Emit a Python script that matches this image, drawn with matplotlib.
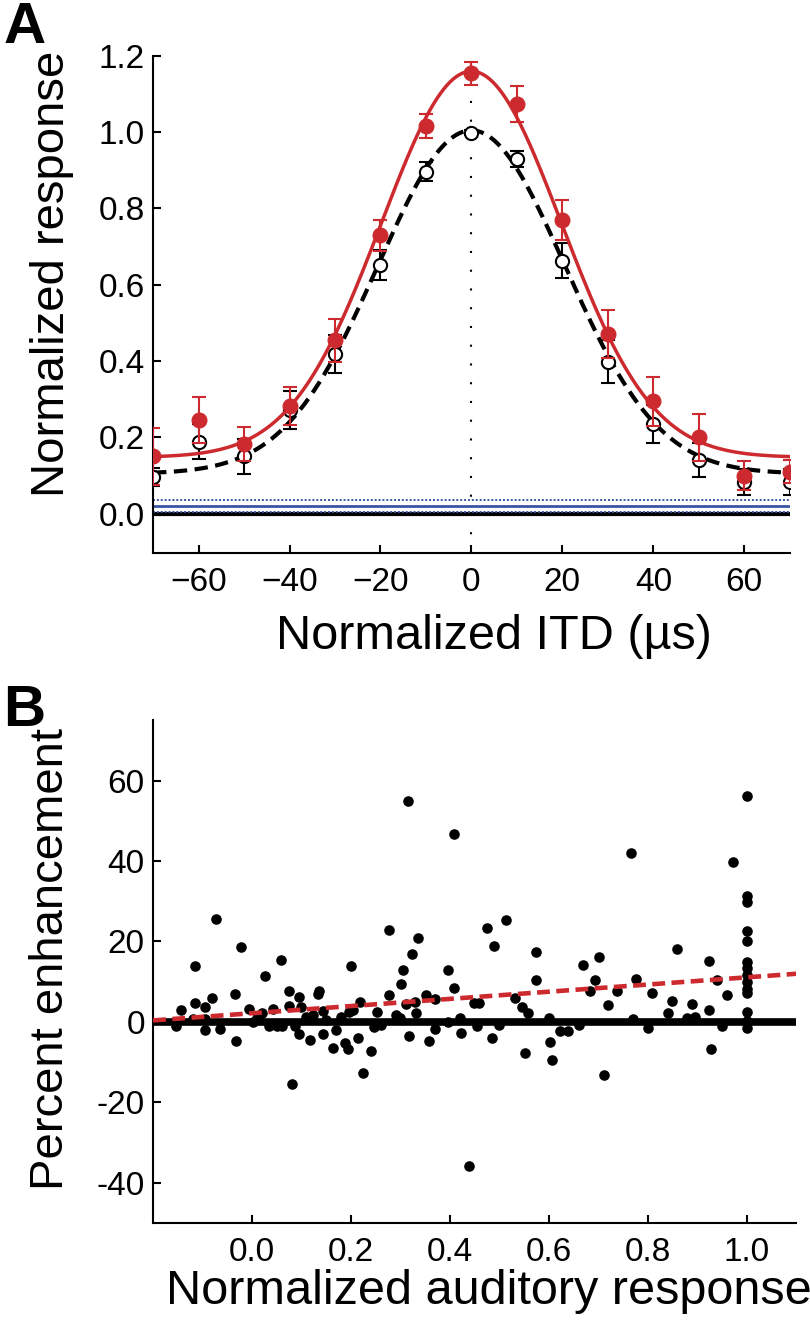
import numpy as np
import matplotlib.pyplot as plt

plt.rcParams['font.family'] = ['Liberation Sans', 'DejaVu Sans']

# ---- panel A data: normalized ITD tuning ----
itd = np.array([-70, -60, -50, -40, -30, -20, -10, 0, 10, 20, 30, 40, 50, 60, 70])
bimodal = np.array([0.15, 0.246, 0.183, 0.283, 0.454, 0.729, 1.016, 1.154,
                    1.074, 0.77, 0.47, 0.294, 0.20, 0.10, 0.11])
bimodal_err = np.array([0.075, 0.06, 0.045, 0.05, 0.056, 0.041, 0.032, 0.03,
                        0.047, 0.052, 0.063, 0.064, 0.061, 0.037, 0.03])
auditory = np.array([0.096, 0.189, 0.15, 0.271, 0.419, 0.652, 0.896, 0.998,
                     0.929, 0.663, 0.398, 0.235, 0.141, 0.083, 0.083])
auditory_err = np.array([0.024, 0.047, 0.046, 0.05, 0.05, 0.04, 0.024, 0.006,
                         0.022, 0.045, 0.056, 0.05, 0.045, 0.035, 0.035])
spont_mean = 0.02
spont_sd = 0.015

# ---- panel B data: enhancement vs auditory response ----
aud_resp = [0.315, 1.0, 0.408, 0.767, 0.972, 1.0, 1.0, -0.072, 0.514, 0.474,
            0.277, 0.336, 1.0, 1.0, -0.023, 0.489, 0.859, 0.574, 0.702, 0.059,
            0.323, 0.924, 1.0, -0.116, 0.2, 0.670, 0.396, 0.306, 0.027, 0.574,
            0.776, 0.694, 0.939, 0.302, 0.408, 0.075, 0.684, 0.738, 0.808, -0.034,
            -0.081, 0.133, 0.135, 0.094, 0.277, 0.351, 0.96,
            1.0, 1.0, 1.0, 1.0, 1.0, 1.0, 1.0, 1.0,
            -0.154, -0.144, -0.116, -0.096, -0.096, -0.096, -0.065, -0.033, -0.007, 0.002,
            0.02, 0.035, 0.042, 0.051, 0.075, 0.081, 0.086, 0.094, 0.099, 0.117,
            0.124, 0.144, 0.144, 0.163, 0.169, 0.188, 0.194, 0.195, 0.204, 0.214,
            0.219, 0.224, 0.24, 0.247, 0.253, 0.291, 0.312, 0.317, 0.329, 0.332,
            0.358, 0.369, 0.369, 0.397, 0.423, 0.439, 0.448, 0.459, 0.454, 0.486,
            0.531, 0.545, 0.551, 0.558, 0.603, 0.606, 0.623, 0.639, 0.711, 0.720,
            0.8, 0.841, 0.848, 0.89, 0.895, 0.924, 0.927,
            -0.12, 0.01, 0.06, 0.11, 0.15, 0.18, 0.26, 0.30, 0.42, 0.50,
            0.60, 0.66, 0.77, 0.88, 0.95]
enhancement = [54.8, 56.1, 46.7, 41.9, 39.7, 31.2, 29.9, 25.5, 25.3, 23.3,
               22.8, 20.8, 22.6, 20.0, 18.6, 18.9, 18.0, 17.4, 16.1, 15.3,
               16.8, 15.2, 14.9, 13.9, 13.9, 14.2, 13.0, 12.8, 11.3, 10.4,
               10.7, 10.3, 10.3, 9.3, 8.5, 7.6, 7.7, 7.6, 7.3, 6.9,
               6.0, 6.9, 7.6, 6.1, 6.6, 6.8, 6.6,
               13.3, 11.6, 10.0, 8.3, 7.1, 2.5, 0.2, -1.5,
               -1.1, 2.9, 4.7, 3.6, 0.8, -1.9, -1.7, -4.7, 3.1, 0.0,
               2.2, -1.1, 3.1, -1.1, 3.9, -15.4, -1.1, -2.9, 3.6, -4.6,
               1.7, 2.7, -2.9, -6.4, -2.1, -5.2, -6.8, 2.5, 2.9, -3.9,
               5.0, -12.6, -7.2, -1.2, 2.5, 1.8, 4.4, -3.6, 5.0, 2.1,
               -4.8, 5.6, -1.8, 0.0, -2.7, -35.9, 4.6, 4.6, -1.1, -3.9,
               6.0, 3.6, -7.7, 2.3, -5.1, -9.5, -2.3, -2.2, -13.3, 4.2,
               -1.5, 2.3, 5.2, 4.4, 1.2, 2.9, -6.7,
               0.8, 1.0, -0.9, 1.1, 0.5, 1.2, -0.8, 0.9, 1.0, -0.7,
               0.9, -0.8, 0.6, 1.0, -0.9]

red = '#cc2a2e'
blue = '#3b55a5'


def gauss_fit(x, y):
    # least squares fit of base + amp*exp(-x^2/2s^2), grid over s
    best = None
    for s in np.linspace(10, 35, 501):
        g = np.exp(-x**2 / (2 * s**2))
        A = np.column_stack([np.ones_like(x), g])
        coef, res, _, _ = np.linalg.lstsq(A, y, rcond=None)
        err = np.sum((A @ coef - y)**2)
        if best is None or err < best[0]:
            best = (err, coef, s)
    return best[1], best[2]


fig = plt.figure(figsize=(8.1, 13.23), dpi=100)

# ---------------- A ----------------
ax = fig.add_axes([0.189, 0.582, 0.786, 0.376])
xs = np.linspace(-70, 70, 400)
c_r, s_r = gauss_fit(itd.astype(float), bimodal)
c_k, s_k = gauss_fit(itd.astype(float), auditory)

ax.axvline(0, color='k', lw=1.5, ls=(0, (1, 8)), zorder=1)
ax.plot([-70, 70], [0, 0], color='k', lw=3, zorder=2)
ax.plot([-70, 70], [spont_mean] * 2, color=blue, lw=2, zorder=2)
ax.plot([-70, 70], [spont_mean + spont_sd] * 2, color=blue, lw=1.4, ls=(0, (1, 1)), zorder=2)
ax.plot([-70, 70], [spont_mean - spont_sd] * 2, color=blue, lw=1.4, ls=(0, (1, 1)), zorder=2)

ax.plot(xs, c_k[0] + c_k[1] * np.exp(-xs**2 / (2 * s_k**2)), color='k', lw=3,
        ls=(0, (3.2, 1.8)), zorder=3)
ax.errorbar(itd, auditory, yerr=auditory_err, fmt='o', mfc='white', mec='k', ecolor='k',
            ms=9.5, mew=1.5, elinewidth=1.5, capsize=5, capthick=1.5, zorder=4)
ax.plot(xs, c_r[0] + c_r[1] * np.exp(-xs**2 / (2 * s_r**2)), color=red, lw=2.5, zorder=5)
ax.errorbar(itd, bimodal, yerr=bimodal_err, fmt='o', color=red, ms=10.5, elinewidth=1.5,
            capsize=5, capthick=1.5, zorder=6)

ax.set_xlim(-70, 70)
ax.set_ylim(-0.103, 1.2)
ax.set_xticks([-60, -40, -20, 0, 20, 40, 60])
ax.set_xticklabels(['\u221260', '\u221240', '\u221220', '0', '20', '40', '60'])
ax.set_yticks(np.arange(0, 1.21, 0.2))
ax.set_yticklabels(['0.0', '0.2', '0.4', '0.6', '0.8', '1.0', '1.2'])
ax.spines['top'].set_visible(False)
ax.spines['right'].set_visible(False)
ax.spines['left'].set_linewidth(1.5)
ax.spines['bottom'].set_linewidth(1.5)
ax.tick_params(direction='in', length=6, width=1.5, labelsize=24)
ax.tick_params(axis='x', pad=10)
ax.tick_params(axis='y', pad=6)
ax.set_xlabel('Normalized ITD (\u00b5s)', fontsize=35)
ax.set_ylabel('Normalized response', fontsize=34)
ax.xaxis.set_label_coords(0.535, -0.122)
ax.yaxis.set_label_coords(-0.125, 0.562)
fig.text(0.004, 0.999, 'A', fontsize=42, fontweight='bold', va='top', ha='left')

# ---------------- B ----------------
bx = fig.add_axes([0.189, 0.0756, 0.794, 0.380])
aud = np.array(aud_resp)
enh = np.array(enhancement)
bx.scatter(aud, enh, s=58, color='k', lw=0, zorder=2)
bx.plot([-0.2, 1.1], [0, 0], color='k', lw=5.5, zorder=3)
p = np.polyfit(aud, enh, 1)
xl = np.array([-0.2, 1.1])
bx.plot(xl, np.polyval(p, xl), color=red, lw=3.3, ls=(0, (2.8, 1.4)), zorder=4)

bx.set_xlim(-0.2, 1.1)
bx.set_ylim(-50, 75)
bx.set_xticks([0.0, 0.2, 0.4, 0.6, 0.8, 1.0])
bx.set_xticklabels(['0.0', '0.2', '0.4', '0.6', '0.8', '1.0'])
bx.set_yticks([-40, -20, 0, 20, 40, 60])
bx.set_yticklabels(['-40', '-20', '0', '20', '40', '60'])
bx.spines['top'].set_visible(False)
bx.spines['right'].set_visible(False)
bx.spines['left'].set_linewidth(1.5)
bx.spines['bottom'].set_linewidth(1.5)
bx.tick_params(direction='in', length=6, width=1.5, labelsize=24)
bx.tick_params(axis='x', pad=10)
bx.tick_params(axis='y', pad=6)
bx.set_xlabel('Normalized auditory response', fontsize=35)
bx.set_ylabel('Percent enhancement', fontsize=34)
bx.xaxis.set_label_coords(0.522, -0.092)
bx.yaxis.set_label_coords(-0.125, 0.525)
fig.text(0.004, 0.483, 'B', fontsize=42, fontweight='bold', va='top', ha='left')

fig.savefig('out.png', dpi=100)
